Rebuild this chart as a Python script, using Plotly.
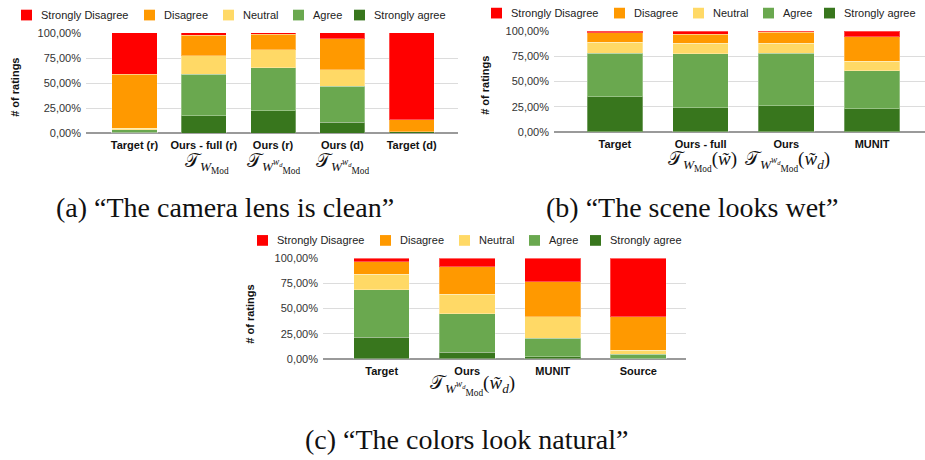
import plotly.graph_objects as go

W, H = 925, 460

# ---------------- data ----------------
levels = ["Strongly agree", "Agree", "Neutral", "Disagree", "Strongly Disagree"]
colors = {"Strongly Disagree": "#ff0000", "Disagree": "#ff9900", "Neutral": "#ffd966",
          "Agree": "#6aa84f", "Strongly agree": "#38761d"}
legend_order = ["Strongly Disagree", "Disagree", "Neutral", "Agree", "Strongly agree"]

cats_a = ["Target (r)", "Ours - full (r)", "Ours (r)", "Ours (d)", "Target (d)"]
a_sa = [1.0, 17.7, 22.4, 11.1, 1.3]
a_ag = [2.5, 41.0, 43.0, 35.6, 0.3]
a_ne = [1.5, 18.5, 17.8, 16.8, 0.0]
a_di = [54.0, 20.5, 15.5, 31.0, 12.0]
a_sd = [41.0, 2.3, 1.3, 5.5, 86.4]

cats_b = ["Target", "Ours - full", "Ours", "MUNIT"]
b_sa = [34.7, 24.1, 25.7, 23.2]
b_ag = [43.4, 53.4, 52.4, 37.3]
b_ne = [11.0, 10.6, 10.0, 9.6]
b_di = [9.0, 8.7, 10.9, 24.1]
b_sd = [1.9, 3.2, 1.0, 5.8]

cats_c = ["Target", "Ours", "MUNIT", "Source"]
c_sa = [21.6, 6.5, 1.9, 0.3]
c_ag = [47.1, 38.3, 18.7, 4.2]
c_ne = [15.2, 19.4, 21.3, 3.9]
c_di = [12.6, 27.4, 34.6, 33.5]
c_sd = [3.5, 8.4, 23.5, 58.1]

y_ticks = [0, 25, 50, 75, 100]
y_ticklabels = ["0,00%", "25,00%", "50,00%", "75,00%", "100,00%"]

captions = ["(a) \u201cThe camera lens is clean\u201d",
            "(b) \u201cThe scene looks wet\u201d",
            "(c) \u201cThe colors look natural\u201d"]

# ---------------- helpers ----------------
def px_x(p):
    return p / W

def px_y(p):
    return 1 - p / H

SANS = "Liberation Sans, Arial, sans-serif"
SERIF = "Liberation Serif, Times New Roman, serif"

panels = [
    dict(xa="x", ya="y", cats=cats_a,
         series=[a_sa, a_ag, a_ne, a_di, a_sd],
         xdom=[px_x(86), px_x(458)], xr=[-0.70, 4.67],
         ydom=[px_y(130.7), px_y(27.7)]),
    dict(xa="x2", ya="y2", cats=cats_b,
         series=[b_sa, b_ag, b_ne, b_di, b_sd],
         xdom=[px_x(554), 1.0], xr=[-0.71, 3.617],
         ydom=[px_y(129.3), px_y(25.7)]),
    dict(xa="x3", ya="y3", cats=cats_c,
         series=[c_sa, c_ag, c_ne, c_di, c_sd],
         xdom=[px_x(323), px_x(686)], xr=[-0.686, 3.558],
         ydom=[px_y(362.3), px_y(259)]),
]

fig = go.Figure()
layout = dict(
    width=W, height=H, margin=dict(l=0, r=0, t=0, b=0),
    paper_bgcolor="white", plot_bgcolor="white",
    barmode="stack", bargap=0.35,
    font=dict(family=SANS, size=11, color="#222222"),
    showlegend=False,
)

for i, p in enumerate(panels):
    for lvl, vals in zip(levels, p["series"]):
        fig.add_trace(go.Bar(
            x=p["cats"], y=vals, name=lvl, marker_color=colors[lvl],
            marker_line=dict(width=1, color="rgba(255,255,255,0.3)"),
            xaxis=p["xa"], yaxis=p["ya"],
        ))
    xk = "xaxis" if i == 0 else f"xaxis{i+1}"
    yk = "yaxis" if i == 0 else f"yaxis{i+1}"
    layout[xk] = dict(domain=p["xdom"], range=p["xr"], anchor=p["ya"],
                      type="category", showgrid=False, showline=False, ticks="",
                      tickfont=dict(size=11, color="#111111", weight="bold"),
                      ticklabelstandoff=4, fixedrange=True)
    layout[yk] = dict(domain=p["ydom"], range=[0, 100.01], anchor=p["xa"],
                      tickvals=y_ticks, ticktext=y_ticklabels,
                      showgrid=True, gridcolor="#dcdcdc", gridwidth=1,
                      zeroline=True, zerolinecolor="#9a9a9a", zerolinewidth=2,
                      showline=False, ticks="", ticklabelstandoff=4,
                      tickfont=dict(size=11, color="#333333"), fixedrange=True)

fig.update_layout(**layout)

# ---------------- legends (one per panel, drawn as swatches + labels) ----------------
shapes = []
ann = []
legend_anchor = [(21, 9.3), (491, 7.3), (257, 240.7)]
item_offsets = [0, 123, 202, 272, 333]
for (lx, ly) in legend_anchor:
    for off, lvl in zip(item_offsets, legend_order):
        x0 = lx + off
        shapes.append(dict(type="rect", xref="paper", yref="paper",
                           x0=px_x(x0), x1=px_x(x0 + 11), y0=px_y(ly + 5.5), y1=px_y(ly - 5.5),
                           fillcolor=colors[lvl], line=dict(width=0)))
        ann.append(dict(text=lvl, x=px_x(x0 + 18), y=px_y(ly), xref="paper", yref="paper",
                        showarrow=False, xanchor="left", yanchor="middle",
                        font=dict(size=11, color="#222222", family=SANS)))

# y-axis titles
for (xp, yp) in [(15, 84), (485, 82), (250, 317)]:
    ann.append(dict(text="<b># of ratings</b>", x=px_x(xp), y=px_y(yp), xref="paper", yref="paper",
                    textangle=-90, showarrow=False, xanchor="center", yanchor="middle",
                    font=dict(size=11, color="#111111", family=SANS)))
# captions
for txt, (xp, yp) in zip(captions, [(225, 207), (692, 207), (467, 445)]):
    ann.append(dict(text=txt, x=px_x(xp), y=px_y(yp), xref="paper", yref="paper",
                    showarrow=False, xanchor="center", yanchor="middle",
                    font=dict(size=28, color="#111111", family=SERIF)))

# math sub-labels under some categories
T = "\U0001D4AF"
m_plain = T + "<sub><i>W</i><sub>Mod</sub></sub>"
m_wd = T + "<sub><i>W</i><sup><i>w<sub>d</sub></i></sup><sub>Mod</sub></sub>"
math_labels = [
    ("x", "Ours - full (r)", m_plain, 161, 3),
    ("x", "Ours (r)", m_wd, 161, 0),
    ("x", "Ours (d)", m_wd, 161, 0),
    ("x2", "Ours - full", m_plain + "(<i>w\u0303</i>)", 159, 2),
    ("x2", "Ours", m_wd + "(<i>w\u0303<sub>d</sub></i>)", 159, 1),
    ("x3", "Ours", m_wd + "(<i>w\u0303<sub>d</sub></i>)", 389, 5),
]
for xr, cat, txt, yp, xs in math_labels:
    ann.append(dict(text=txt, x=cat, xref=xr, y=px_y(yp), yref="paper", xshift=xs,
                    showarrow=False, xanchor="center", yanchor="middle",
                    font=dict(size=19, color="#111111", family=SERIF)))

fig.update_layout(annotations=ann, shapes=shapes)
fig.write_html("out.html", config={"displayModeBar": False},
               post_script="document.body.style.margin='0';document.body.style.overflow='hidden';")
